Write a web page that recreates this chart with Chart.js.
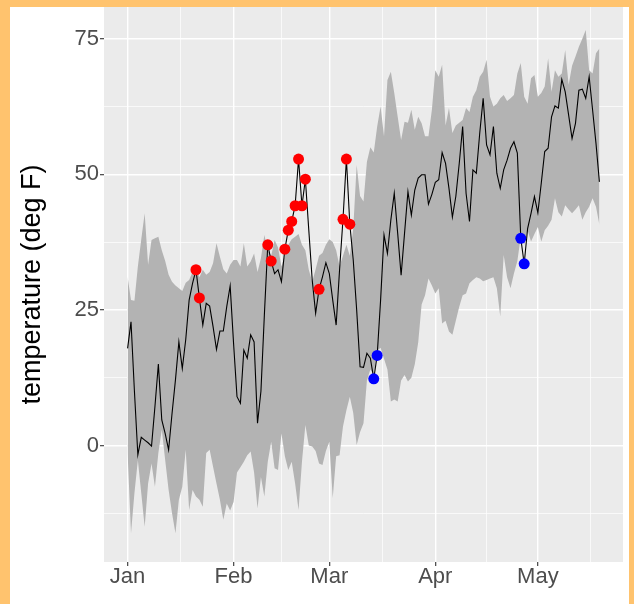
<!DOCTYPE html>
<html>
<head>
<meta charset="utf-8">
<script src="https://cdn.jsdelivr.net/npm/chart.js@4.4.1/dist/chart.umd.min.js"></script>
<style>
  html, body { margin: 0; padding: 0; background: #FFC36E; width: 634px; height: 604px; overflow: hidden; }
  #wrap { position: absolute; left: 10px; top: 7px; width: 619px; height: 597px; background: #fff; }
</style>
</head>
<body>
<div id="wrap"><canvas id="chart"></canvas></div>
<script>
// daily temperature, day 0 = 1 Jan
const temp = [
  17.9, 22.8, 10, -1.7, 1.5, 1.0, 0.5, -0.1, 7.2, 15.0,
  4.7, 2.2, -0.8, 5.9, 12.1, 19.1, 14.2, 19.5, 26.8, 29.9,
  32.4, 27.2, 22.2, 26.2, 25.7, 21.9, 17.7, 21.1, 21.1, 25.6,
  29.4, 18.8, 9.0, 7.8, 17.6, 16.1, 20.4, 19.1, 4.1, 10,
  24, 37.0, 34.0, 31.7, 32.4, 30.2, 36.2, 39.7, 41.3, 44.2,
  52.8, 44.2, 49.1, 39.7, 30.5, 24.4, 28.8, 31.1, 33.7, 31.7,
  26.8, 22.2, 32.4, 41.7, 52.8, 40.8, 34.2, 25, 14.5, 14.4,
  17.0, 16.1, 12.3, 16.6, 26.8, 38.8, 35.4, 41.6, 46.5, 39.1,
  31.4, 39.1, 46.8, 42.5, 47.1, 49.3, 49.9, 49.9, 44.5, 46.3,
  48.5, 49.0, 54.0, 52.0, 47.4, 42.1, 45.9, 52.0, 58.8, 46.5,
  41.3, 50.8, 50.2, 57.6, 64.0, 55.4, 53.6, 58.8, 50.2, 47.4,
  50.8, 52.6, 54.8, 56.0, 53.9, 38.2, 33.5, 40.0, 42.8, 45.9,
  42.9, 48.4, 54.2, 54.8, 60.6, 62.6, 62.2, 67.5, 65.2, 60.9,
  56.6, 59.4, 65.5, 65.7, 64.0, 68.0, 61.9, 55.7, 48.6
];

// upper edge of the grey band
const bandHigh = [
  31.1, 26.8, 26.7, 33, 38, 42.8, 33.3, 37.9, 38.2, 38.5,
  36, 34, 31.5, 30.2, 29.5, 29, 28.5, 30, 30.5, 32,
  33, 31, 32.4, 31.5, 32, 33.6, 37.3, 34.8, 32.5, 31.7,
  33.3, 34.2, 34.2, 33, 37.3, 33, 33.9, 35.4, 32, 34.5,
  38.8, 36, 35, 37.9, 36.5, 33, 35, 37, 38, 38.5,
  39, 37, 36, 32.4, 30.2, 32.5, 35, 35.5, 37, 38,
  37.5, 36, 33, 35, 37, 35, 40, 51.7, 46, 45,
  52.3, 55, 54, 58.8, 62.5, 57, 67.4, 68.9, 65, 60.6,
  56.3, 59.7, 59.5, 61.9, 58.2, 60.6, 59.4, 57, 57, 61.9,
  69.2, 68, 70.2, 59, 62.2, 57.6, 59, 59.5, 60, 62.2,
  61.5, 64.3, 65.5, 68, 68.9, 71.1, 64.3, 62.5, 63, 64,
  64.6, 63.5, 64, 64.6, 68.6, 70.5, 64.3, 63, 67.7, 68.3,
  64.3, 65, 66.2, 71.4, 65.2, 69.2, 68, 68.6, 72.9, 66.5,
  70, 71.7, 73.5, 75, 76.6, 69.2, 68.6, 72.3, 73.2
];

// lower edge of the grey band
const bandLow = [
  -1.4, -16.2, -8.8, -2.7, -8.8, -15.0, -7.0, -3.3, -7.6, -1.4,
  2.9, -2.7, -8.2, -12.5, -16.2, -10.0, -7.6, -0.8, -11.9, -8.2,
  -9.4, -10.0, -11.3, -1.4, -0.8, -3.9, -7.0, -10.0, -13.7, -10.7,
  -12, -10.4, -5, -4, -3.0, -1.8, -1.1, -5, -11.6, -5.8,
  -9.4, -3, 0.7, -4.2, -4.5, 2.2, -2, -4.5, -3, -7,
  -11.9, -3, 3.8, 0, -0.2, -1, -3.3, -3.6, -1, 0.7,
  -9.7, -2, -1.8, 3.5, 6.5, 9, 6, 0.1, 2.5, 4.1,
  12, 14, 13, 17.5, 18, 16, 14, 8.1, 8.5, 8.1,
  12, 13, 11.8, 12.5, 15, 19, 26, 27.7, 30.8, 29.5,
  28, 29, 22.5, 23, 21, 20.4, 23, 25.6, 27.7, 28,
  29.9, 30.5, 31, 30.8, 30.3, 30.5, 30.8, 31, 29, 23.8,
  35.1, 31, 29, 31.7, 34, 38.5, 37, 39.7, 37.6, 39,
  40.3, 37.6, 39.7, 40.5, 41.6, 45.6, 43, 42.2, 44.3, 43.5,
  42.8, 43.5, 44.3, 41.6, 43, 44, 45.6, 44, 40.7
];

// days marked with dots
const hotDays = [20, 21, 41, 42, 46, 47, 48, 49, 50, 51, 52, 56, 63, 64, 65];
const coldDays = [72, 73, 115, 116];

const monthLabels = ['Jan', 'Feb', 'Mar', 'Apr', 'May'];
const monthStarts = [0, 31, 59, 90, 120];
const xMinor = [15.5, 45, 74.5, 105, 135.5];
const yMajor = [0, 25, 50, 75];
const yMinor = [-12.5, 12.5, 37.5, 62.5];

const FONT = '"Liberation Sans", Arial, sans-serif';

const toPts = arr => arr.map((v, i) => ({x: i, y: v}));
const dayPts = days => days.map(d => ({x: d, y: temp[d]}));

// grey panel behind the plot
const panelBg = {
    id: 'panelBg',
    beforeDraw(chart) {
        const a = chart.chartArea;
        const ctx = chart.ctx;
        ctx.save();
        ctx.fillStyle = '#EBEBEB';
        ctx.fillRect(a.left, a.top, a.right - a.left, a.bottom - a.top);
        ctx.restore();
    }
};

const isMajorX = v => monthStarts.includes(v);
const isMajorY = v => yMajor.includes(v);

new Chart(document.getElementById('chart'), {
    type: 'line',
    data: {
        datasets: [
            {
                data: toPts(bandLow),
                borderColor: 'rgba(0,0,0,0)',
                pointRadius: 0,
                fill: false,
                order: 3
            },
            {
                data: toPts(bandHigh),
                borderColor: 'rgba(0,0,0,0)',
                backgroundColor: '#B3B3B3',
                pointRadius: 0,
                fill: '-1',
                order: 2
            },
            {
                data: toPts(temp),
                borderColor: '#000000',
                borderWidth: 1.1,
                pointRadius: 0,
                fill: false,
                tension: 0,
                order: 1
            },
            {
                data: dayPts(hotDays),
                showLine: false,
                pointRadius: 5.5,
                pointBackgroundColor: '#FF0000',
                pointBorderWidth: 0,
                order: 0
            },
            {
                data: dayPts(coldDays),
                showLine: false,
                pointRadius: 5.5,
                pointBackgroundColor: '#0000FF',
                pointBorderWidth: 0,
                order: 0
            }
        ]
    },
    options: {
        responsive: true,
        maintainAspectRatio: false,
        devicePixelRatio: 1,
        animation: false,
        layout: { autoPadding: false, padding: { left: 0, top: 0, right: 6, bottom: 0 } },
        plugins: { legend: { display: false }, tooltip: { enabled: false } },
        scales: {
            x: {
                type: 'linear',
                min: -6.9,
                max: 144.9,
                afterBuildTicks: s => {
                    s.ticks = monthStarts.concat(xMinor).sort((a, b) => a - b).map(v => ({value: v}));
                },
                afterFit: s => {
                    s.height = 42;
                    s.paddingLeft = 0;
                    s.paddingRight = 0;
                },
                border: { display: false },
                grid: {
                    color: '#FFFFFF',
                    lineWidth: c => (c.tick && isMajorX(c.tick.value)) ? 1.4 : 0.7,
                    tickColor: c => (c.tick && isMajorX(c.tick.value)) ? '#333333' : 'rgba(0,0,0,0)',
                    tickLength: 4,
                    tickWidth: 1.1
                },
                ticks: {
                    autoSkip: false,
                    maxRotation: 0,
                    padding: 0,
                    color: '#4D4D4D',
                    font: { family: FONT, size: 22, lineHeight: 1 },
                    callback: v => {
                        const i = monthStarts.indexOf(v);
                        return i >= 0 ? monthLabels[i] : '';
                    }
                }
            },
            y: {
                min: -21.48,
                max: 80.84,
                afterBuildTicks: s => {
                    s.ticks = yMinor.concat(yMajor).sort((a, b) => a - b).map(v => ({value: v}));
                },
                afterFit: s => {
                    s.width = 94;
                    s.paddingTop = 0;
                    s.paddingBottom = 0;
                },
                border: { display: false },
                grid: {
                    color: '#FFFFFF',
                    lineWidth: c => (c.tick && isMajorY(c.tick.value)) ? 1.4 : 0.7,
                    tickColor: c => (c.tick && isMajorY(c.tick.value)) ? '#333333' : 'rgba(0,0,0,0)',
                    tickLength: 4,
                    tickWidth: 1.1
                },
                ticks: {
                    autoSkip: false,
                    padding: 1,
                    color: '#4D4D4D',
                    font: { family: FONT, size: 22 },
                    callback: v => isMajorY(v) ? String(v) : ''
                },
                title: {
                    display: true,
                    text: 'temperature (deg F)',
                    color: '#000000',
                    font: { family: FONT, size: 27, lineHeight: 1 },
                    padding: { top: 9, bottom: 0 }
                }
            }
        }
    },
    plugins: [panelBg]
});
</script>
</body>
</html>
